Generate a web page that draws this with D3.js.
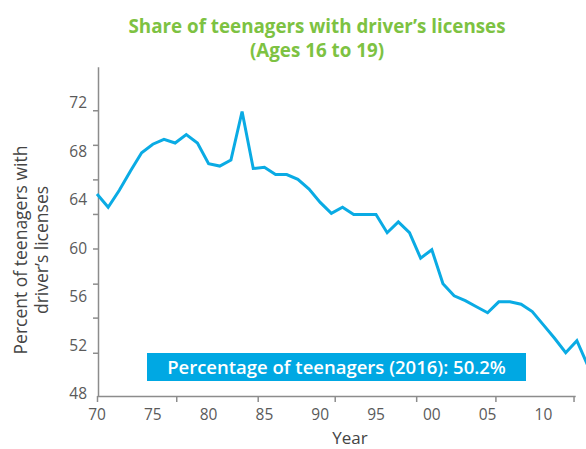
<!DOCTYPE html>
<html>
<head>
<meta charset="utf-8">
<script src="https://cdn.jsdelivr.net/npm/d3@7"></script>
<style>
  body { margin: 0; background: #fff; }
  svg { font-family: 'Open Sans', sans-serif; display: block; }
  .axis path, .axis line { stroke: #8c8c8c; stroke-width: 1.5; }
  .axis text { fill: #5a5a5a; font-size: 15.5px; }
</style>
</head>
<body>
<svg id="chart" width="586" height="449"></svg>
<script>
const years = [1970, 1971, 1972, 1973, 1974, 1975, 1976, 1977, 1978, 1979,
  1980, 1981, 1982, 1983, 1984, 1985, 1986, 1987, 1988, 1989,
  1990, 1991, 1992, 1993, 1994, 1995, 1996, 1997, 1998, 1999,
  2000, 2001, 2002, 2003, 2004, 2005, 2006, 2007, 2008, 2009,
  2010, 2011, 2012, 2013, 2014];
const shares = [64.5, 63.4, 64.8, 66.4, 67.9, 68.6, 69.0, 68.7, 69.4, 68.7,
  67.0, 66.8, 67.3, 71.3, 66.6, 66.7, 66.1, 66.1, 65.7, 64.9,
  63.8, 62.9, 63.4, 62.8, 62.8, 62.8, 61.3, 62.2, 61.3, 59.2,
  59.9, 57.1, 56.1, 55.7, 55.2, 54.7, 55.6, 55.6, 55.4, 54.8,
  53.7, 52.6, 51.4, 52.4, 50.3];

const yLabels = [48, 52, 56, 60, 64, 68, 72];
const yTickMarks = [51.4, 54.3, 57.1, 60.0, 62.85, 65.7, 68.55, 71.4];
const xLabels = [1970, 1975, 1980, 1985, 1990, 1995, 2000, 2005, 2010];
const xTickMarks = [1970, 1977.1, 1984.4, 1991.3, 1998.6, 2005.7, 2012.7];
const yExtent = [47.84, 75];
const xExtent = [1970, 2012.85];

const title = ['Share of teenagers with driver\u2019s licenses', '(Ages 16 to 19)'];
const yTitle = ['Percent of teenagers with', 'driver\u2019s licenses'];
const note = 'Percentage of teenagers (2016): 50.2%';

const svg = d3.select('#chart');

const x = d3.scaleLinear().domain([1970, 2010]).range([97, 543.4]);
const y = d3.scaleLinear().domain([48, 72]).range([394, 103]);

// title
svg.append('text')
    .attr('x', 317)
    .attr('y', 33)
    .attr('text-anchor', 'middle')
    .style('font-size', '18.8px')
    .style('font-weight', 700)
    .style('fill', '#7dc242')
  .selectAll('tspan')
    .data(title)
  .enter().append('tspan')
    .attr('x', 317)
    .attr('dy', (d, i) => (i ? 24 : 0))
    .text(d => d);

// y axis: labels and tick marks separately
const yLine = d3.scaleLinear().domain(yExtent).range([y(yExtent[0]), y(yExtent[1])]);
svg.append('g')
    .attr('class', 'axis')
    .attr('transform', 'translate(98,0)')
    .call(d3.axisLeft(yLine).tickValues(yTickMarks).tickFormat('').tickSizeInner(5).tickSizeOuter(0));

svg.append('g')
    .attr('class', 'axis')
    .selectAll('text')
    .data(yLabels)
  .enter().append('text')
    .attr('x', 87)
    .attr('y', d => y(d))
    .attr('dy', '0.35em')
    .attr('text-anchor', 'end')
    .text(d => d);

// x axis
const xLine = d3.scaleLinear().domain(xExtent).range([x(xExtent[0]), x(xExtent[1])]);
svg.append('g')
    .attr('class', 'axis')
    .attr('transform', 'translate(0,396)')
    .call(d3.axisBottom(xLine).tickValues(xTickMarks).tickFormat('').tickSizeInner(6).tickSizeOuter(0));

svg.append('g')
    .attr('class', 'axis')
    .selectAll('text')
    .data(xLabels)
  .enter().append('text')
    .attr('x', d => x(d))
    .attr('y', 420)
    .attr('text-anchor', 'middle')
    .text(d => String(d).slice(2));

// axis titles
svg.append('text')
    .attr('x', 350)
    .attr('y', 444)
    .attr('text-anchor', 'middle')
    .style('font-size', '17px')
    .style('fill', '#444')
    .text('Year');

svg.append('text')
    .attr('transform', 'translate(27,250) rotate(-90)')
    .attr('text-anchor', 'middle')
    .style('font-size', '17.5px')
    .style('fill', '#444')
  .selectAll('tspan')
    .data(yTitle)
  .enter().append('tspan')
    .attr('x', 0)
    .attr('dy', (d, i) => (i ? 21 : 0))
    .text(d => d);

// the line
const line = d3.line()
    .x((d, i) => x(years[i]))
    .y(d => y(d));

svg.append('path')
    .datum(shares)
    .attr('fill', 'none')
    .attr('stroke', '#0aabe4')
    .attr('stroke-width', 3)
    .attr('d', line);

// note box
svg.append('rect')
    .attr('x', 147)
    .attr('y', 353)
    .attr('width', 379)
    .attr('height', 28)
    .attr('fill', '#00a8e3');

svg.append('text')
    .attr('x', 336.5)
    .attr('y', 373.5)
    .attr('text-anchor', 'middle')
    .style('font-size', '18.5px')
    .style('font-weight', 600)
    .style('fill', '#fff')
    .text(note);
</script>
</body>
</html>
